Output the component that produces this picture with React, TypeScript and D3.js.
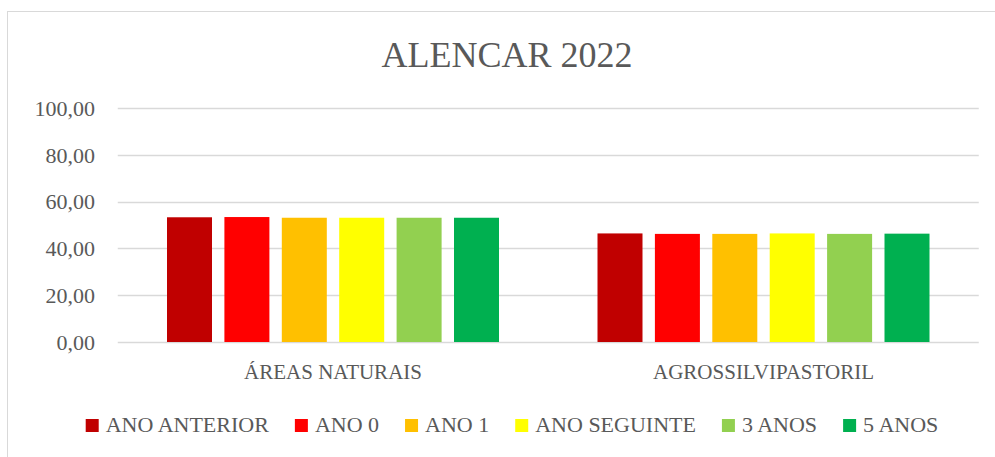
import React, { useEffect, useRef } from "react";
import * as d3 from "d3";

const categories = ["ÁREAS NATURAIS", "AGROSSILVIPASTORIL"];
const seriesNames = ["ANO ANTERIOR", "ANO 0", "ANO 1", "ANO SEGUINTE", "3 ANOS", "5 ANOS"];
const seriesColors = ["#c00000", "#ff0000", "#ffc000", "#ffff00", "#92d050", "#00b050"];
// values[series][category]
const anoAnterior = [53.3, 46.4];
const ano0 = [53.4, 46.2];
const ano1 = [53.1, 46.2];
const anoSeguinte = [53.1, 46.4];
const tresAnos = [53.1, 46.2];
const cincoAnos = [53.1, 46.3];
const seriesValues = [anoAnterior, ano0, ano1, anoSeguinte, tresAnos, cincoAnos];
const yTicks = [0, 20, 40, 60, 80, 100];

const FONT = "'Liberation Serif', 'Times New Roman', serif";
const TEXT = "#595959";

export default function App() {
  const ref = useRef<SVGSVGElement>(null);

  useEffect(() => {
    const svg = d3.select(ref.current);
    svg.selectAll("*").remove();

    // chart frame
    svg.append("rect")
      .attr("x", 7.5).attr("y", 11.5)
      .attr("width", 1010).attr("height", 460)
      .attr("fill", "#fff").attr("stroke", "#d9d9d9").attr("stroke-width", 1);

    // title
    svg.append("text")
      .attr("x", 507).attr("y", 67)
      .attr("text-anchor", "middle")
      .attr("font-family", FONT).attr("font-size", 36)
      .attr("fill", TEXT)
      .text("ALENCAR 2022");

    const plot = { left: 117.75, right: 978.75, top: 108, bottom: 342 };

    const x0 = d3.scaleBand<string>().domain(categories).range([plot.left, plot.right]);
    const x1 = d3.scaleBand<string>()
      .domain(seriesNames)
      .range([49.25, x0.bandwidth() - 49.25])
      .paddingInner(0.216)
      .paddingOuter(0);
    const y = d3.scaleLinear().domain([0, 100]).range([plot.bottom, plot.top]);

    // gridlines
    svg.append("g").selectAll("line").data(yTicks).join("line")
      .attr("x1", plot.left).attr("x2", plot.right)
      .attr("y1", (d) => Math.round(y(d)) + 0.5).attr("y2", (d) => Math.round(y(d)) + 0.5)
      .attr("stroke", "#d9d9d9").attr("stroke-width", 1.3);

    // y labels
    svg.append("g").selectAll("text").data(yTicks).join("text")
      .attr("x", 95).attr("y", (d) => y(d))
      .attr("dy", "0.35em")
      .attr("text-anchor", "end")
      .attr("font-family", FONT).attr("font-size", 22)
      .attr("fill", TEXT)
      .text((d) => d3.format(".2f")(d).replace(".", ","));

    // bars
    const groups = svg.append("g").selectAll("g").data(categories).join("g")
      .attr("transform", (c) => `translate(${x0(c)},0)`);
    groups.selectAll("rect")
      .data((c, ci) => seriesNames.map((s, si) => ({ s, si, v: seriesValues[si][ci] })))
      .join("rect")
      .attr("x", (d) => x1(d.s) as number)
      .attr("width", x1.bandwidth())
      .attr("y", (d) => y(d.v))
      .attr("height", (d) => y(0) - y(d.v))
      .attr("fill", (d) => seriesColors[d.si]);

    // category labels
    svg.append("g").selectAll("text").data(categories).join("text")
      .attr("x", (c) => (x0(c) as number) + x0.bandwidth() / 2)
      .attr("y", 379)
      .attr("text-anchor", "middle")
      .attr("font-family", FONT).attr("font-size", 21)
      .attr("fill", TEXT)
      .text((c) => c);

    // legend
    const legend = svg.append("g");
    const items = legend.selectAll("g").data(seriesNames).join("g");
    items.append("rect")
      .attr("width", 13).attr("height", 13)
      .attr("y", -13)
      .attr("fill", (d, i) => seriesColors[i]);
    items.append("text")
      .attr("x", 20).attr("y", 0)
      .attr("font-family", FONT).attr("font-size", 22)
      .attr("fill", TEXT)
      .text((d) => d);
    let cx = 0;
    const gap = 26;
    items.each(function () {
      const g = d3.select(this);
      const w = 20 + (g.select("text").node() as SVGTextElement).getComputedTextLength();
      g.attr("transform", `translate(${cx},0)`);
      cx += w + gap;
    });
    const total = cx - gap;
    legend.attr("transform", `translate(${512 - total / 2},432)`);
  }, []);

  return (
    <svg ref={ref} width={995} height={457} style={{ position: "absolute", left: 0, top: 0, background: "#fff" }} />
  );
}
